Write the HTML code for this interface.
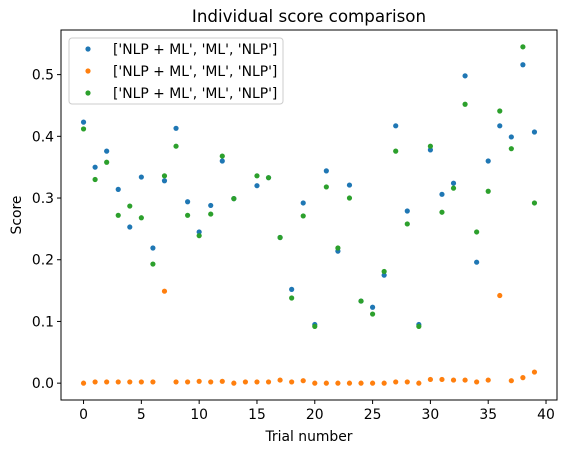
<!DOCTYPE html>
<html><head><meta charset="utf-8"><style>
body{margin:0;background:#fff;}
text{font-family:"DejaVu Sans","Liberation Sans",sans-serif;fill:#000;}
</style></head><body>
<svg id="chart" width="567" height="453" xmlns="http://www.w3.org/2000/svg">
<rect width="567" height="453" fill="#fff"/>
<text x="309" y="22" font-size="16.7" text-anchor="middle">Individual score comparison</text>
<g id="marks"></g>
<g id="axes"></g>
<rect x="61" y="30" width="496" height="370" fill="none" stroke="#000" stroke-width="1"/>
<text x="309" y="441" font-size="13.9" text-anchor="middle">Trial number</text>
<text x="21" y="215" font-size="13.9" text-anchor="middle" transform="rotate(-90 21 215)">Score</text>
<g>
<rect x="69" y="38" width="214" height="66" rx="3" fill="#fff" fill-opacity="0.8" stroke="#ccc"/>
<circle cx="88" cy="49" r="2.6" fill="#1f77b4"/>
<text x="113" y="54" font-size="13.9">['NLP + ML', 'ML', 'NLP']</text>
<circle cx="88" cy="71" r="2.6" fill="#ff7f0e"/>
<text x="113" y="76" font-size="13.9">['NLP + ML', 'ML', 'NLP']</text>
<circle cx="88" cy="93" r="2.6" fill="#2ca02c"/>
<text x="113" y="98" font-size="13.9">['NLP + ML', 'ML', 'NLP']</text>
</g>
</svg>
<script>
const trials = Array.from({length:40},(_,i)=>i);
const seriesBlue = [.423,.350,.376,.314,.253,.334,.219,.328,.413,.294,.245,.288,.360,.299,null,.320,.333,.236,.152,.292,.095,.344,.214,.321,.133,.123,.175,.417,.279,.095,.378,.306,.324,.498,.196,.360,.417,.399,.516,.407];
const seriesOrange = [.000,.002,.002,.002,.002,.002,.002,.149,.002,.002,.003,.002,.003,.000,.002,.002,.002,.005,.002,.004,.000,.000,.000,.000,.000,.000,.000,.002,.002,.000,.006,.006,.005,.005,.002,.005,.142,.004,.009,.018];
const seriesGreen = [.412,.330,.358,.272,.287,.268,.193,.336,.384,.272,.239,.274,.368,.299,null,.336,.333,.236,.138,.271,.092,.318,.219,.300,.133,.112,.181,.376,.258,.092,.384,.277,.316,.452,.245,.311,.441,.380,.545,.292];
const xTicks = [0,5,10,15,20,25,30,35,40];
const yTicks = [0.0,0.1,0.2,0.3,0.4,0.5];
const yTickLabels = ["0.0","0.1","0.2","0.3","0.4","0.5"];

const X0=61,X1=557,Y0=30,Y1=400,xmin=-1.95,xmax=40.95,ymin=-0.0273,ymax=0.5723;
const sx=v=>X0+(v-xmin)/(xmax-xmin)*(X1-X0);
const sy=v=>Y1-(v-ymin)/(ymax-ymin)*(Y1-Y0);
const NS="http://www.w3.org/2000/svg";
const marks=document.getElementById('marks'), axes=document.getElementById('axes');
function draw(vals,color,nm){
  vals.forEach((v,i)=>{
    if(v===null)return;
    const c=document.createElementNS(NS,'circle');
    c.setAttribute('cx',sx(trials[i]));c.setAttribute('cy',sy(v));c.setAttribute('r',2.6);c.setAttribute('fill',color);
    
    
    marks.appendChild(c);
  });
}
draw(seriesBlue,'#1f77b4','blue');
draw(seriesOrange,'#ff7f0e','orange');
draw(seriesGreen,'#2ca02c','green');
xTicks.forEach(t=>{
  const l=document.createElementNS(NS,'line');
  l.setAttribute('x1',sx(t));l.setAttribute('x2',sx(t));l.setAttribute('y1',Y1);l.setAttribute('y2',Y1+4);l.setAttribute('stroke','#000');
  
  
  axes.appendChild(l);
  const tx=document.createElementNS(NS,'text');
  tx.setAttribute('x',sx(t));tx.setAttribute('y',Y1+19);tx.setAttribute('font-size','13.9');tx.setAttribute('text-anchor','middle');
  tx.textContent=t;
  
  
  axes.appendChild(tx);
});
yTicks.forEach((t,i)=>{
  const l=document.createElementNS(NS,'line');
  l.setAttribute('x1',X0-4);l.setAttribute('x2',X0);l.setAttribute('y1',sy(t));l.setAttribute('y2',sy(t));l.setAttribute('stroke','#000');
  
  
  axes.appendChild(l);
  const tx=document.createElementNS(NS,'text');
  tx.setAttribute('x',X0-7);tx.setAttribute('y',sy(t)+5);tx.setAttribute('font-size','13.9');tx.setAttribute('text-anchor','end');
  tx.textContent=yTickLabels[i];
  
  
  axes.appendChild(tx);
});
</script>
</body></html>
